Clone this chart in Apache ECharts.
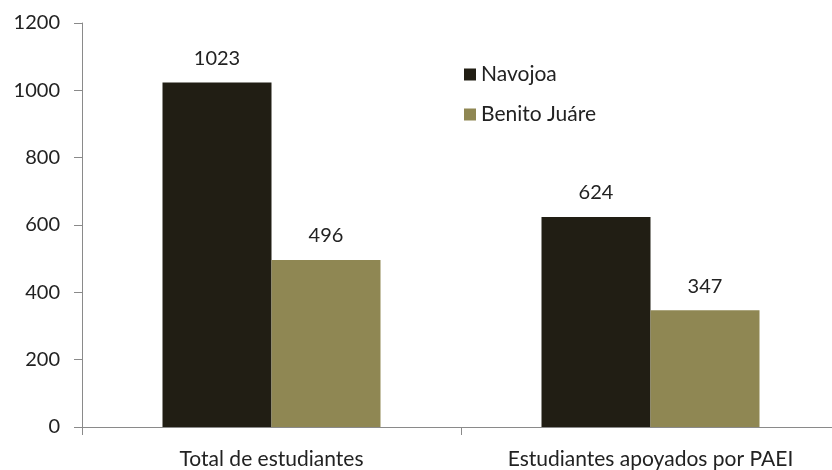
<!DOCTYPE html>
<html><head><meta charset="utf-8">
<script src="https://cdn.jsdelivr.net/npm/echarts@6/dist/echarts.min.js"></script>
<style>html,body{margin:0;padding:0;background:#fff;overflow:hidden;width:832px;height:470px}#c{width:850px;height:470px}</style>
</head><body><div id="c"></div>
<script>
const categories = ["Total de estudiantes", "Estudiantes apoyados por PAEI"];
const seriesNames = ["Navojoa", "Benito Juáre"];
const navojoa = [1023, 624];
const benito = [496, 347];
const yTicks = [0, 200, 400, 600, 800, 1000, 1200];

const FONT = "Lato";
const chart = echarts.init(document.getElementById('c'), null, {renderer: 'canvas'});
chart.setOption({
  animation: false,
  textStyle: {fontFamily: FONT},
  grid: {left: 82, width: 758, top: 23, height: 406, containLabel: false},
  legend: {
    orient: 'vertical', left: 459, top: 59, itemWidth: 12, itemHeight: 12, itemGap: 19,
    icon: 'rect',
    textStyle: {fontFamily: FONT, fontSize: 21, color: '#222'},
    data: seriesNames
  },
  xAxis: {
    type: 'category', data: categories,
    axisLine: {lineStyle: {color: '#8a8a8a'}},
    axisTick: {show: true, length: 8, lineStyle: {color: '#8a8a8a'}},
    axisLabel: {fontFamily: FONT, fontSize: 21, color: '#222', margin: 22}
  },
  yAxis: {
    type: 'value', min: yTicks[0], max: yTicks[yTicks.length - 1], interval: 200,
    axisLine: {show: true, lineStyle: {color: '#8a8a8a'}},
    axisTick: {show: true, length: 8, lineStyle: {color: '#8a8a8a'}},
    splitLine: {show: false},
    axisLabel: {fontFamily: FONT, fontSize: 20, color: '#222', margin: 22, formatter: v => String(v)}
  },
  series: [
    {name: seriesNames[0], type: 'bar', data: navojoa, barGap: '0%', barWidth: 109,
     itemStyle: {color: '#211e14'},
     label: {show: true, position: 'top', distance: 14, fontFamily: FONT, fontSize: 20, color: '#222'}},
    {name: seriesNames[1], type: 'bar', data: benito, barGap: '0%', barWidth: 109,
     itemStyle: {color: '#8f8753'},
     label: {show: true, position: 'top', distance: 14, fontFamily: FONT, fontSize: 20, color: '#222'}}
  ]
});
</script></body></html>
